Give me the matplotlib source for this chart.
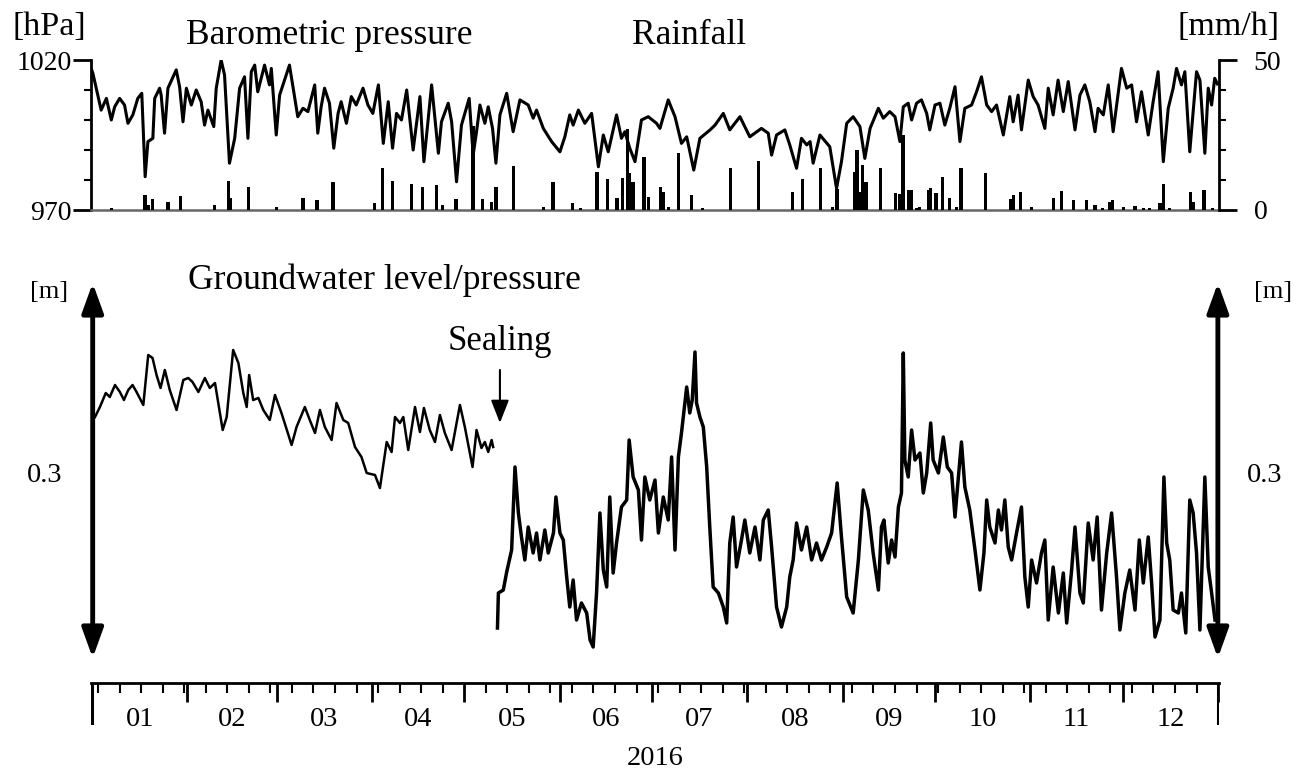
import numpy as np
import matplotlib
matplotlib.use("Agg")
import matplotlib.pyplot as plt

plt.rcParams['font.family'] = ['Liberation Serif', 'DejaVu Serif']

# ---- data (day of year 2016, 0 = Jan 1) ----
p_day = [0.0, 0.3, 1.4, 3.0, 4.7, 6.3, 7.4, 9.0, 10.6, 11.7, 13.3, 14.9, 16.2, 17.3, 18.2,
         19.8, 20.4, 22.0, 22.5, 23.6, 24.7, 27.4, 28.5, 29.6, 30.7, 32.3, 33.9, 35.5,
         36.6, 37.7, 39.6, 40.4, 42.0, 43.1, 44.7, 46.4, 48.0, 49.6, 50.7, 51.8, 52.9,
         53.9, 56.1, 57.7, 58.3, 59.9, 61.0, 64.2, 66.9, 68.6, 70.2, 72.4, 73.4, 74.5,
         75.6, 77.2, 78.6, 80.0, 81.0, 82.7, 84.3, 85.9, 88.1, 89.7, 91.3,
         93.1, 94.7, 96.3, 97.7, 99.0, 100.6, 102.3, 104.4, 106.6, 107.9, 110.4, 112.6,
         113.6, 115.8, 116.9, 118.5, 120.1, 122.6, 123.9, 125.0, 126.1, 127.7, 128.8,
         130.2, 131.3, 132.6, 134.8, 136.9, 139.1, 141.8, 143.4, 144.5, 146.7, 149.4,
         152.1, 153.7, 155.3, 156.4, 158.1, 160.2, 162.4, 164.6, 166.2, 167.8, 170.5,
         172.1, 173.2, 174.8, 176.5, 178.6, 180.8, 183.5,
         184.6, 187.3, 189.5, 191.6, 193.3, 195.6, 197.6, 200.9, 202.5, 205.2, 207.3,
         210.6, 213.8, 217.6, 219.8, 220.9, 222.5, 225.2, 226.8, 229.0, 230.6, 232.3,
         233.4, 234.4, 236.6, 239.8, 242.0, 243.6, 245.3, 247.4, 249.6, 251.2, 252.9,
         255.6, 257.2, 259.3, 261.0, 262.6, 263.7, 265.3, 266.4, 268.0, 269.6, 271.3,
         272.3, 274.0, 275.6, 277.2, 278.8, 280.5, 282.1, 283.7, 285.9, 287.5, 289.1,
         290.8, 292.4, 294.0, 296.2, 298.3, 299.4, 301.0, 302.1, 304.3, 305.9, 307.5,
         309.7, 310.8, 312.4, 314.0, 315.7, 317.3, 319.5, 321.1, 322.7, 324.3, 326.0,
         327.0, 328.7, 330.3, 331.9, 334.6, 336.3, 337.9, 339.5, 341.1, 343.3, 344.9,
         346.5, 348.2, 349.8, 351.4, 352.5, 354.1, 355.2, 356.8, 359.0, 360.1, 361.7,
         362.8, 363.9, 364.9, 365.8]
pressure = [1016.5, 1015.6, 1010.6, 1003.3, 1007.2, 1000.0, 1004.4, 1007.2, 1005.0, 998.9,
            1001.7, 1007.2, 1008.9, 981.1, 992.8, 993.9, 1007.2, 1010.6, 1008.3, 995.6,
            1010.6, 1016.7, 1011.1, 999.4, 1010.6, 1005.0, 1010.0, 1006.1, 998.3, 1003.3,
            997.8, 1010.6, 1020.0, 1015.0, 985.6, 993.9, 1010.6, 1014.4, 993.9, 1016.1,
            1018.3, 1009.4, 1018.3, 1011.7, 1017.2, 995.0, 1008.3, 1018.3, 1001.1, 1003.9,
            1002.8, 1011.7, 995.6, 1004.4, 1010.6, 1005.6, 990.6, 1002.2, 1006.1, 998.9,
            1007.8, 1005.0, 1010.6, 1005.0, 1002.2,
            1011.7, 992.2, 1006.1, 990.6, 1002.2, 1000.0, 1010.0, 990.0, 1007.8, 986.1,
            1011.7, 988.9, 999.4, 1005.6, 999.4, 979.4, 998.3, 1007.2, 988.3, 996.1,
            1005.0, 998.9, 1004.4, 997.2, 985.6, 1001.7, 1008.9, 996.1, 1006.7, 1005.0,
            1000.6, 1003.3, 997.2, 992.8, 989.4, 994.4, 1001.7, 998.3, 1003.3, 998.9,
            1002.2, 984.4, 995.0, 989.4, 1001.7, 993.9, 996.1, 990.6, 986.1, 1000.0,
            1001.1, 998.9,
            997.2, 1006.7, 1001.1, 992.2, 994.4, 983.3, 993.9, 996.7, 998.3, 1002.2, 996.7,
            1001.1, 994.4, 997.2, 995.6, 988.3, 995.0, 996.7, 991.7, 983.9, 993.9, 991.7,
            992.8, 985.6, 995.0, 991.1, 977.2, 986.1, 998.9, 1001.1, 997.8, 987.2, 997.2,
            1003.9, 1000.6, 1002.8, 1001.1, 992.8, 1004.4, 1005.6, 1000.0, 1005.6, 1006.7,
            1002.2, 996.7, 1005.0, 1005.6, 998.3, 1003.9, 1011.1, 992.8, 1003.9, 1005.0,
            1009.4, 1014.4, 1005.0, 1002.8, 1005.0, 995.0, 1007.8, 999.4, 1008.3, 996.7,
            1013.3, 1007.8, 1005.0, 997.2, 1010.6, 1001.7, 1013.3, 1002.8, 1012.8, 996.7,
            1008.3, 1011.7, 1006.1, 996.1, 1003.9, 1001.7, 1011.7, 996.1, 1017.2, 1010.6,
            1011.7, 999.4, 1009.4, 995.0, 1006.1, 1016.1, 986.1, 1003.9, 1010.6, 1017.2,
            1011.7, 1016.1, 989.4, 1016.1, 1013.3, 988.9, 1010.6, 1005.0, 1013.9, 1012.0]

rain_day = [6.3, 17.3, 18.2, 19.6, 24.7, 28.8, 39.9, 44.4, 45.1, 50.9, 59.9, 68.6, 73.2,
            78.3, 91.9, 94.4, 97.6, 103.9, 107.5, 112.0, 114.0, 118.3, 123.9, 127.0, 129.9,
            131.3, 137.1, 146.7, 149.9, 156.2, 158.8, 164.2, 167.5, 170.7, 172.4, 174.1,
            174.6, 175.9, 179.4, 180.8, 184.8, 185.7, 187.3, 190.6, 194.9, 198.5, 207.6,
            216.6, 227.7, 230.9, 236.8, 240.7, 242.2, 248.0, 248.7, 249.6, 250.5, 251.6,
            256.3, 261.2, 262.4, 263.6, 265.3, 266.2, 268.0, 268.9, 271.8, 272.6, 274.3,
            276.5, 278.8, 281.0, 282.4, 290.4, 298.6, 299.6, 301.8, 305.4, 312.6, 315.1,
            319.1, 323.3, 326.0, 328.5, 330.8, 331.7, 335.2, 339.0, 341.7, 343.8, 347.1,
            348.2, 350.3, 357.1, 357.9, 361.4, 364.2]
rainfall = [0.5, 5.0, 1.7, 3.7, 2.8, 4.8, 1.7, 9.7, 3.9, 7.8, 1.1, 4.1, 3.3,
            9.2, 2.2, 14.1, 9.7, 8.7, 7.6, 8.3, 1.7, 3.7, 28.0, 3.7, 2.8,
            7.8, 14.8, 1.1, 9.2, 2.2, 0.8, 12.8, 10.3, 3.9, 10.8, 27.0,
            12.2, 9.2, 17.8, 4.4, 7.8, 6.1, 1.1, 18.9, 5.0, 0.6, 13.9,
            16.3, 6.1, 10.3, 13.9, 1.1, 7.0, 12.6, 20.0, 6.1, 15.0, 9.4,
            14.1, 5.6, 5.2, 25.0, 6.7, 6.7, 0.6, 1.1, 6.7, 7.2, 5.6,
            11.1, 4.1, 1.1, 13.9, 12.2, 3.7, 5.0, 6.1, 1.1, 4.1, 6.3,
            3.3, 3.3, 1.7, 0.8, 2.8, 3.3, 1.1, 1.4, 0.6, 0.6, 2.2,
            8.6, 0.8, 6.1, 2.8, 6.7, 0.8]

# groundwater before sealing
gw_day_pre = [1.0, 2.6, 4.5, 5.8, 7.5, 9.1, 10.4, 11.8, 13.2, 14.5, 16.7, 18.3, 19.7, 21.0,
              22.3, 23.7, 25.3, 27.5, 29.7, 31.3, 32.7, 34.6, 36.7, 38.3, 40.0, 42.5, 43.8,
              45.9, 47.6, 49.2, 50.3, 51.1, 52.4, 54.1, 55.7, 57.8, 59.5, 61.6, 64.9, 66.5,
              69.2, 70.8, 72.5, 74.1, 75.7, 77.9, 79.5, 81.7, 83.3, 85.5, 87.6, 89.3, 92.0,
              93.6, 95.8, 97.4, 98.5, 100.1, 101.2, 102.8, 105.0, 106.6, 107.9, 109.8,
              111.5, 113.1, 114.7, 116.9, 119.6, 121.2, 123.7, 125.0, 126.6, 127.7, 128.8,
              129.9, 130.4]
gw_pre = [0.358, 0.368, 0.382, 0.378, 0.390, 0.383, 0.375, 0.385, 0.390, 0.383, 0.370, 0.420,
          0.417, 0.400, 0.387, 0.405, 0.385, 0.365, 0.395, 0.397, 0.393, 0.383, 0.397, 0.387,
          0.392, 0.345, 0.358, 0.425, 0.412, 0.382, 0.368, 0.400, 0.375, 0.377, 0.365, 0.355,
          0.380, 0.362, 0.330, 0.348, 0.368, 0.355, 0.342, 0.365, 0.348, 0.335, 0.372, 0.355,
          0.352, 0.328, 0.318, 0.302, 0.300, 0.287, 0.333, 0.323, 0.358, 0.352, 0.358, 0.325,
          0.368, 0.343, 0.367, 0.345, 0.333, 0.360, 0.342, 0.325, 0.370, 0.348, 0.308, 0.345,
          0.327, 0.333, 0.323, 0.335, 0.328]

# groundwater pressure after sealing
gw_day_post = [131.8, 132.1, 133.7, 134.8, 136.4, 137.5, 138.6, 139.6, 140.7, 141.8, 143.4,
               144.5, 145.6, 147.2, 148.3, 150.0, 150.8, 152.1, 153.2, 154.3, 155.3, 156.4,
               157.5, 159.1, 160.8, 161.9, 162.9, 164.0, 165.1, 166.2, 167.3, 168.3, 169.4,
               170.5, 172.1, 173.8, 174.6, 175.9, 177.6, 178.6, 179.7, 181.3, 183.0, 184.1,
               185.7, 187.3, 188.4, 189.5, 190.6, 191.6, 193.3, 194.3, 195.1, 196.0, 196.5,
               197.6, 198.7, 199.8, 200.8, 201.9, 203.6, 205.2, 206.3, 207.3, 208.4, 209.5,
               211.1, 212.2, 213.8, 215.5, 217.1, 218.2, 219.8, 220.9, 222.5, 224.1, 225.8,
               226.8, 227.9, 229.0, 230.6, 232.3, 233.9, 235.5, 237.1, 238.8, 240.4, 242.2,
               243.6, 245.3, 247.4, 249.1, 250.7, 252.3, 253.9, 255.6, 256.6, 257.4, 258.8,
               259.9, 261.0, 262.1, 263.1, 263.7, 264.2, 265.3, 266.4, 267.5, 269.1, 270.2,
               271.3, 272.6, 273.4, 275.1, 276.7, 278.0, 279.4, 280.5, 281.6, 282.6, 283.7,
               285.3, 287.0, 288.6, 289.9, 290.8, 291.8, 293.5, 294.6, 295.6, 296.7, 297.8,
               298.9, 300.5, 302.1, 303.2, 304.3, 305.4, 307.0, 308.6, 309.7, 310.8, 312.4,
               314.1, 315.7, 316.8, 318.4, 319.5, 321.1, 322.2, 323.8, 325.4, 326.7, 328.1,
               329.8, 331.4, 333.0, 334.1, 335.7, 337.3, 339.0, 340.4, 341.7, 343.3, 344.4,
               345.5, 347.1, 348.4, 349.3, 350.3, 351.4, 353.1, 354.1, 355.5, 356.8, 357.9,
               359.0, 360.1, 361.7, 362.8, 363.9, 365.0]
gw_post = [0.147, 0.182, 0.185, 0.203, 0.225, 0.308, 0.262, 0.238, 0.215, 0.248, 0.222,
           0.242, 0.215, 0.245, 0.222, 0.242, 0.278, 0.242, 0.235, 0.198, 0.168, 0.195,
           0.155, 0.172, 0.162, 0.135, 0.128, 0.182, 0.262, 0.205, 0.188, 0.278, 0.202,
           0.232, 0.268, 0.275, 0.335, 0.298, 0.285, 0.235, 0.298, 0.275, 0.295, 0.242,
           0.278, 0.255, 0.318, 0.225, 0.318, 0.342, 0.388, 0.362, 0.375, 0.423, 0.372,
           0.358, 0.348, 0.308, 0.248, 0.188, 0.182, 0.168, 0.152, 0.232, 0.258, 0.208,
           0.235, 0.255, 0.222, 0.248, 0.215, 0.255, 0.265, 0.228, 0.168, 0.148, 0.168,
           0.198, 0.215, 0.252, 0.225, 0.248, 0.215, 0.232, 0.215, 0.228, 0.242, 0.292,
           0.238, 0.178, 0.162, 0.215, 0.285, 0.265, 0.222, 0.185, 0.248, 0.255, 0.212,
           0.235, 0.218, 0.268, 0.282, 0.422, 0.315, 0.298, 0.345, 0.315, 0.322, 0.282,
           0.302, 0.352, 0.315, 0.302, 0.338, 0.308, 0.302, 0.258, 0.298, 0.333, 0.288,
           0.265, 0.225, 0.185, 0.222, 0.275, 0.248, 0.232, 0.265, 0.245, 0.275, 0.228,
           0.215, 0.242, 0.268, 0.198, 0.168, 0.215, 0.192, 0.222, 0.235, 0.155, 0.208,
           0.162, 0.202, 0.152, 0.205, 0.248, 0.182, 0.172, 0.252, 0.215, 0.258, 0.165,
           0.222, 0.262, 0.198, 0.145, 0.182, 0.205, 0.165, 0.235, 0.192, 0.238, 0.192,
           0.138, 0.155, 0.298, 0.232, 0.215, 0.165, 0.162, 0.182, 0.142, 0.275, 0.262,
           0.222, 0.145, 0.298, 0.208, 0.182, 0.155]

month_starts = [0, 31, 60, 91, 121, 152, 182, 213, 244, 274, 305, 335, 366]
month_labels = ['01', '02', '03', '04', '05', '06', '07', '08', '09', '10', '11', '12']
sealing_day = 132.6

# ---- figure ----
W, H = 1311, 771
fig = plt.figure(figsize=(W / 100, H / 100), dpi=100)


def box(x0, y0, x1, y1):
    return [x0 / W, 1 - y1 / H, (x1 - x0) / W, (y1 - y0) / H]


XLIM = (-0.3, 366.3)

# top panel: pressure + rainfall
ax = fig.add_axes(box(91, 60, 1219, 210))
ax.plot(p_day, pressure, color='k', lw=2.2)
ax.set_xlim(*XLIM)
ax.set_ylim(970, 1020)
ax.set_xticks([])
ax.set_yticks([970, 1020])
ax.set_yticks(range(980, 1020, 10), minor=True)
ax.tick_params(axis='y', which='major', length=13, width=2, labelsize=20, pad=1)
ax.tick_params(axis='y', which='minor', length=5, width=1.5)
for s in ['top', 'right']:
    ax.spines[s].set_visible(False)
ax.spines['left'].set_linewidth(2)
ax.spines['bottom'].set_color('#666666')
ax.spines['bottom'].set_linewidth(1.8)

ax2 = ax.twinx()
ax2.bar(rain_day, rainfall, width=1.1, color='k')
ax2.set_ylim(0, 50)
ax2.set_xlim(*XLIM)
ax2.set_yticks([0, 50])
ax2.set_yticks(range(10, 50, 10), minor=True)
ax2.tick_params(axis='y', which='major', length=13, width=2, labelsize=20, pad=12)
ax2.tick_params(axis='y', which='minor', length=5, width=1.5)
for s in ['top', 'left', 'bottom']:
    ax2.spines[s].set_visible(False)
ax2.spines['right'].set_linewidth(2)

# bottom panel: groundwater
axg = fig.add_axes(box(91, 283, 1219, 658))
axg.plot(gw_day_pre, gw_pre, color='k', lw=1.8)
axg.plot(gw_day_post, gw_post, color='k', lw=2.5)
axg.set_xlim(*XLIM)
axg.set_ylim(0.117, 0.492)
axg.axis('off')
for xa in [0.0015, 0.999]:
    axg.annotate('', xy=(xa, 1.0), xytext=(xa, 0.0), xycoords='axes fraction',
                 textcoords='axes fraction',
                 arrowprops=dict(arrowstyle='<|-|>,head_length=1.8,head_width=0.65',
                                 lw=3.5, color='k', shrinkA=0, shrinkB=0))
axg.annotate('', xy=(sealing_day, 0.352), xytext=(sealing_day, 0.405),
             arrowprops=dict(arrowstyle='-|>,head_length=1.4,head_width=0.55',
                             lw=1.5, color='k', shrinkA=0, shrinkB=0))
axg.text(sealing_day, 0.433, 'Sealing', ha='center', va='center', fontsize=25)

# time axis
axt = fig.add_axes(box(91, 683, 1219, 725))
axt.set_xlim(*XLIM)
axt.set_ylim(0, 1)
axt.xaxis.tick_top()
axt.set_xticks(month_starts)
axt.set_xticks(np.arange(2, 366, 7), minor=True)
axt.tick_params(axis='x', which='major', direction='in', length=14, width=2,
                labeltop=False, labelbottom=False)
axt.tick_params(axis='x', which='minor', direction='in', length=7, width=1.5)
axt.set_yticks([])
for s in ['left', 'right', 'bottom']:
    axt.spines[s].set_visible(False)
axt.spines['top'].set_linewidth(2)
axt.vlines([month_starts[0], month_starts[-1]], 0, 1, color='k', lw=2.2)
for i, lab in enumerate(month_labels):
    mid = (month_starts[i] + month_starts[i + 1]) / 2
    axt.text(mid, 0.14, lab, transform=axt.get_xaxis_transform(),
             ha='center', va='center', fontsize=20.5)
axt.text(183, -0.8, '2016', transform=axt.get_xaxis_transform(),
         ha='center', va='center', fontsize=20.5)

# texts
def ftext(x, y, s, size, ha='center'):
    fig.text(x / W, 1 - y / H, s, ha=ha, va='center', fontsize=size)


ftext(49, 27, '[hPa]', 24.5)
ftext(1228, 27, '[mm/h]', 24.5)
ftext(329, 35, 'Barometric pressure', 25.5)
ftext(689, 35, 'Rainfall', 25.5)
ftext(384, 280, 'Groundwater level/pressure', 25.5)
ftext(49, 292, '[m]', 19)
ftext(1273, 292, '[m]', 19)
ftext(45, 475, '0.3', 20.5)
ftext(1265, 475, '0.3', 20.5)

fig.savefig('out.png', dpi=100)
